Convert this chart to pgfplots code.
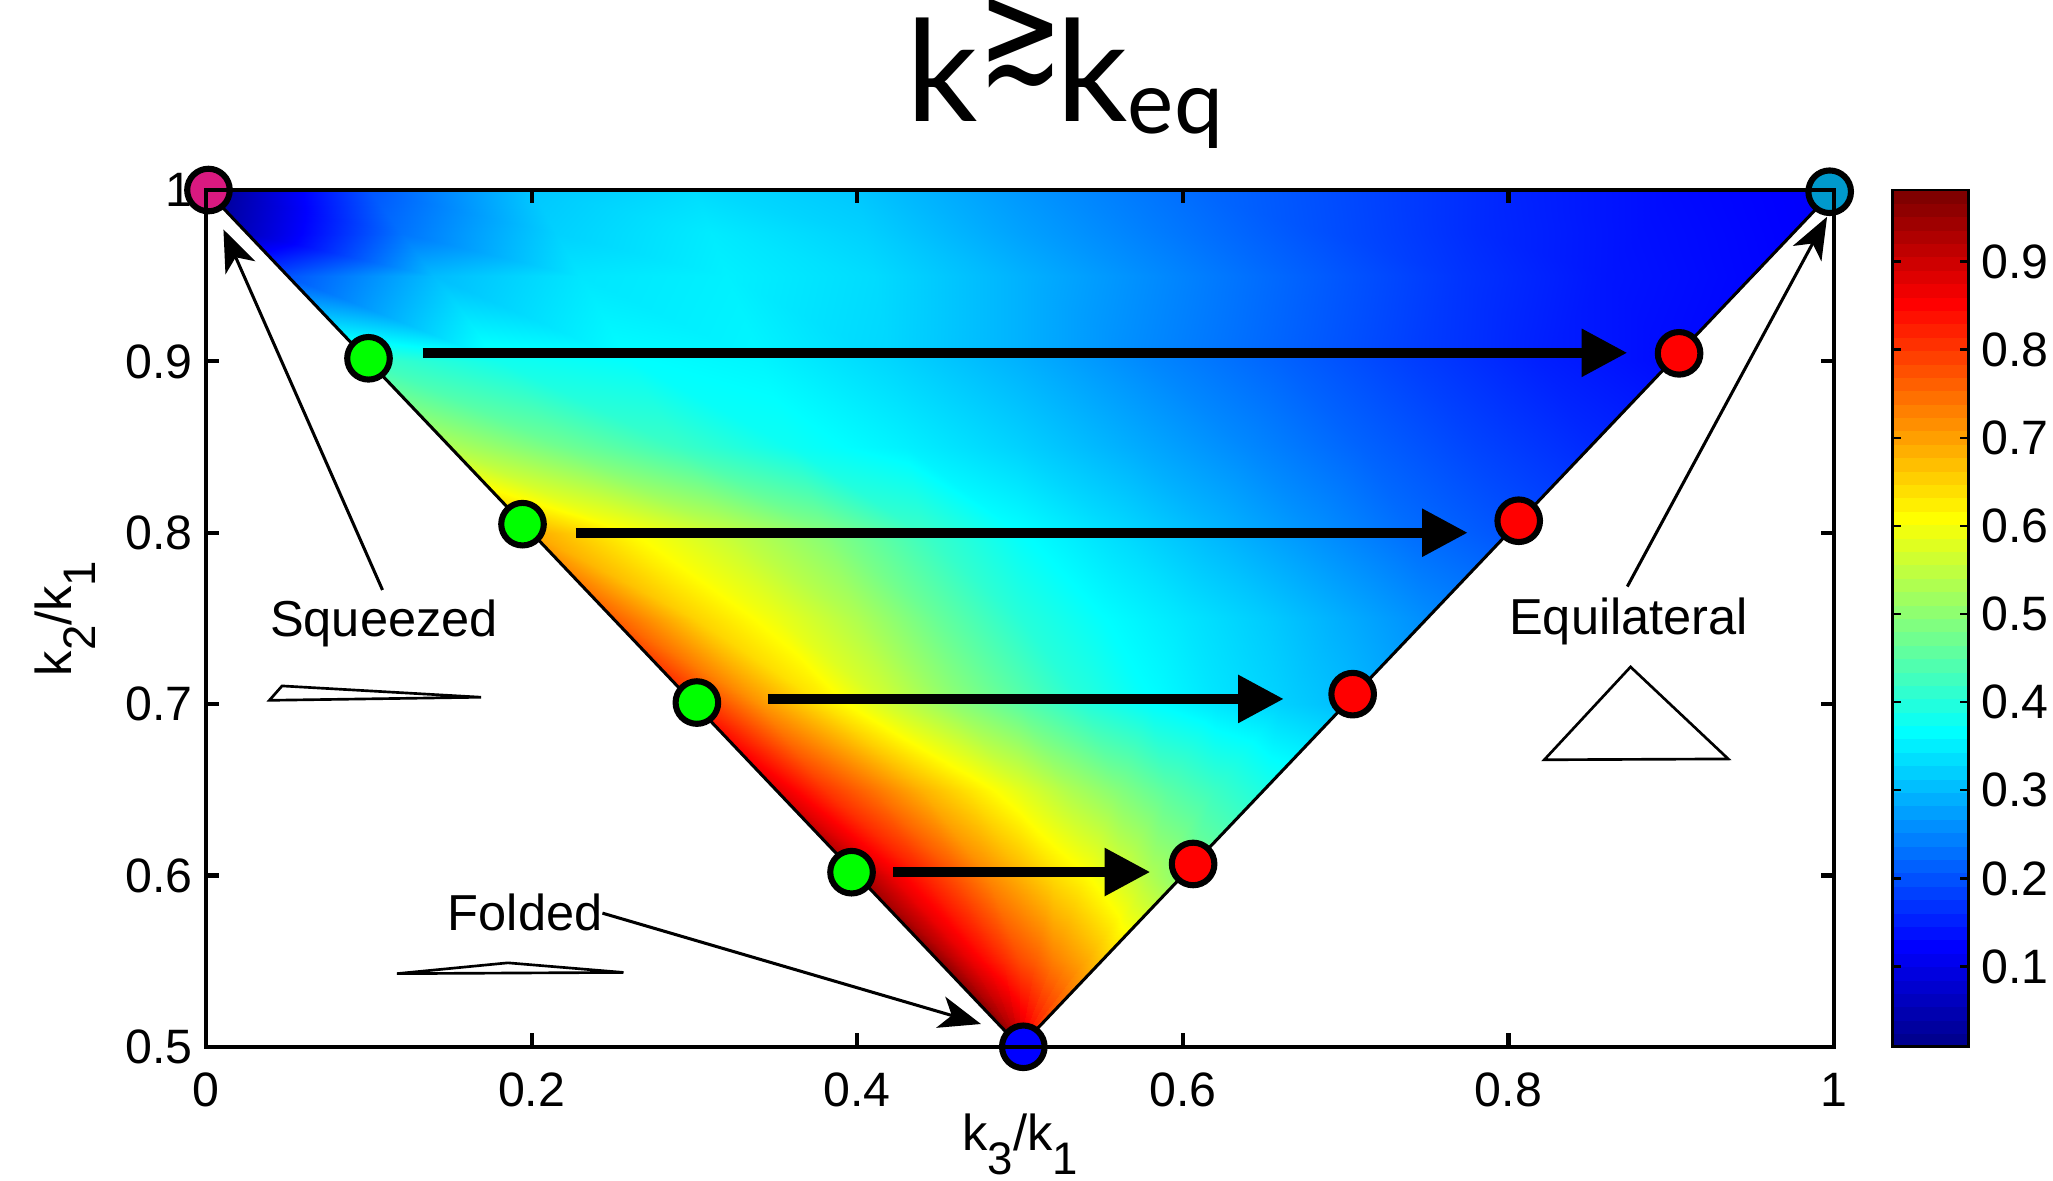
\documentclass[border=0pt]{standalone}
\usepackage{graphicx}
\usepackage{fontspec}
\setmainfont{Liberation Sans}
\newfontfamily\titlefont{Lato}
\newfontfamily\symfont{DejaVu Sans}
\usepackage{pgfplots}
\usepackage{pgfplotstable}
\pgfplotsset{compat=1.18}
\usetikzlibrary{arrows.meta}
\pgfplotsset{/pgf/number format/assume math mode=true}

\definecolor{sqzmag}{rgb}{0.85,0.10,0.50}
\definecolor{eqblue}{rgb}{0.00,0.60,0.80}

% 64-step jet for the colour scale, one band per colour
\pgfplotsset{colormap={jetsteps}{
 rgb(0cm)=(0,0,.5625) rgb(1cm)=(0,0,.625) rgb(2cm)=(0,0,.6875) rgb(3cm)=(0,0,.75)
 rgb(4cm)=(0,0,.8125) rgb(5cm)=(0,0,.875) rgb(6cm)=(0,0,.9375) rgb(7cm)=(0,0,1)
 rgb(8cm)=(0,.0625,1) rgb(9cm)=(0,.125,1) rgb(10cm)=(0,.1875,1) rgb(11cm)=(0,.25,1)
 rgb(12cm)=(0,.3125,1) rgb(13cm)=(0,.375,1) rgb(14cm)=(0,.4375,1) rgb(15cm)=(0,.5,1)
 rgb(16cm)=(0,.5625,1) rgb(17cm)=(0,.625,1) rgb(18cm)=(0,.6875,1) rgb(19cm)=(0,.75,1)
 rgb(20cm)=(0,.8125,1) rgb(21cm)=(0,.875,1) rgb(22cm)=(0,.9375,1) rgb(23cm)=(0,1,1)
 rgb(24cm)=(.0625,1,.9375) rgb(25cm)=(.125,1,.875) rgb(26cm)=(.1875,1,.8125) rgb(27cm)=(.25,1,.75)
 rgb(28cm)=(.3125,1,.6875) rgb(29cm)=(.375,1,.625) rgb(30cm)=(.4375,1,.5625) rgb(31cm)=(.5,1,.5)
 rgb(32cm)=(.5625,1,.4375) rgb(33cm)=(.625,1,.375) rgb(34cm)=(.6875,1,.3125) rgb(35cm)=(.75,1,.25)
 rgb(36cm)=(.8125,1,.1875) rgb(37cm)=(.875,1,.125) rgb(38cm)=(.9375,1,.0625) rgb(39cm)=(1,1,0)
 rgb(40cm)=(1,.9375,0) rgb(41cm)=(1,.875,0) rgb(42cm)=(1,.8125,0) rgb(43cm)=(1,.75,0)
 rgb(44cm)=(1,.6875,0) rgb(45cm)=(1,.625,0) rgb(46cm)=(1,.5625,0) rgb(47cm)=(1,.5,0)
 rgb(48cm)=(1,.4375,0) rgb(49cm)=(1,.375,0) rgb(50cm)=(1,.3125,0) rgb(51cm)=(1,.25,0)
 rgb(52cm)=(1,.1875,0) rgb(53cm)=(1,.125,0) rgb(54cm)=(1,.0625,0) rgb(55cm)=(1,0,0)
 rgb(56cm)=(.9375,0,0) rgb(57cm)=(.875,0,0) rgb(58cm)=(.8125,0,0) rgb(59cm)=(.75,0,0)
 rgb(60cm)=(.6875,0,0) rgb(61cm)=(.625,0,0) rgb(62cm)=(.5625,0,0) rgb(63cm)=(.5,0,0)
 rgb(64cm)=(.5,0,0)}}

% shape ratio over the triangle, one scan line per k2/k1 value (11 points each)
\pgfplotstableread{
x y c
0.50 0.50 0.981
0.50 0.50 0.975
0.50 0.50 0.965
0.50 0.50 0.955
0.50 0.50 0.945
0.50 0.50 0.930
0.50 0.50 0.915
0.50 0.50 0.900
0.50 0.50 0.885
0.50 0.50 0.870
0.50 0.50 0.850
0.45 0.55 0.97
0.46 0.55 0.92
0.47 0.55 0.88
0.48 0.55 0.85
0.49 0.55 0.82
0.50 0.55 0.79
0.51 0.55 0.77
0.52 0.55 0.74
0.53 0.55 0.72
0.54 0.55 0.70
0.55 0.55 0.67
0.40 0.60 0.95
0.42 0.60 0.88
0.44 0.60 0.83
0.46 0.60 0.78
0.48 0.60 0.73
0.50 0.60 0.69
0.52 0.60 0.65
0.54 0.60 0.62
0.56 0.60 0.58
0.58 0.60 0.54
0.60 0.60 0.50
0.35 0.65 0.89
0.38 0.65 0.81
0.41 0.65 0.75
0.44 0.65 0.69
0.47 0.65 0.64
0.50 0.65 0.59
0.53 0.65 0.54
0.56 0.65 0.50
0.59 0.65 0.46
0.62 0.65 0.43
0.65 0.65 0.40
0.30 0.70 0.83
0.34 0.70 0.72
0.38 0.70 0.64
0.42 0.70 0.57
0.46 0.70 0.51
0.50 0.70 0.46
0.54 0.70 0.41
0.58 0.70 0.375
0.62 0.70 0.35
0.66 0.70 0.33
0.70 0.70 0.31
0.25 0.75 0.77
0.30 0.75 0.66
0.35 0.75 0.60
0.40 0.75 0.54
0.45 0.75 0.47
0.50 0.75 0.41
0.55 0.75 0.375
0.60 0.75 0.35
0.65 0.75 0.325
0.70 0.75 0.295
0.75 0.75 0.265
0.20 0.80 0.70
0.26 0.80 0.62
0.32 0.80 0.56
0.38 0.80 0.50
0.44 0.80 0.43
0.50 0.80 0.375
0.56 0.80 0.34
0.62 0.80 0.305
0.68 0.80 0.27
0.74 0.80 0.235
0.80 0.80 0.21
0.15 0.85 0.54
0.22 0.85 0.48
0.29 0.85 0.43
0.36 0.85 0.385
0.43 0.85 0.36
0.50 0.85 0.33
0.57 0.85 0.295
0.64 0.85 0.26
0.71 0.85 0.225
0.78 0.85 0.195
0.85 0.85 0.17
0.10 0.90 0.43
0.18 0.90 0.39
0.26 0.90 0.375
0.34 0.90 0.365
0.42 0.90 0.335
0.50 0.90 0.30
0.58 0.90 0.26
0.66 0.90 0.225
0.74 0.90 0.19
0.82 0.90 0.16
0.90 0.90 0.14
0.05 0.95 0.21
0.14 0.95 0.31
0.23 0.95 0.35
0.32 0.95 0.36
0.41 0.95 0.34
0.50 0.95 0.30
0.59 0.95 0.26
0.68 0.95 0.22
0.77 0.95 0.18
0.86 0.95 0.15
0.95 0.95 0.135
0.025 0.975 0.07
0.12  0.975 0.24
0.215 0.975 0.33
0.31  0.975 0.355
0.405 0.975 0.33
0.50  0.975 0.285
0.595 0.975 0.245
0.69  0.975 0.205
0.785 0.975 0.17
0.88  0.975 0.145
0.975 0.975 0.13
0.0 1.0 0.015
0.1 1.0 0.21
0.2 1.0 0.32
0.3 1.0 0.34
0.4 1.0 0.32
0.5 1.0 0.275
0.6 1.0 0.235
0.7 1.0 0.20
0.8 1.0 0.165
0.9 1.0 0.14
1.0 1.0 0.125
}\fielddata

\newcommand{\sub}[1]{\raisebox{-6.2pt}{\fontsize{12}{12}\selectfont #1}}
\tikzset{bigarrow/.style={black, line width=2.6pt, -{Triangle[length=12pt,width=12pt]}},
         thinarrow/.style={black, line width=0.8pt, -{Stealth[length=11pt,width=8.5pt,inset=3pt]}},
         dot/.style={only marks, mark=*, mark size=5.6pt, mark options={draw=black, fill=#1, line width=1.6pt}, on layer=axis foreground}}

\begin{document}
\begin{tikzpicture}
\begin{axis}[
  name=main,
  scale only axis, width=428.3pt, height=225.4pt,
  xmin=0, xmax=1, ymin=0.5, ymax=1,
  xtick={0,0.2,0.4,0.6,0.8,1}, ytick={0.5,0.6,0.7,0.8,0.9,1},
  xtick pos=both, ytick pos=both, xticklabel pos=lower, yticklabel pos=left,
  tick align=inside, major tick length=3.5pt,
  every tick/.style={black, line width=1.1pt},
  axis line style={line width=1.2pt},
  tick label style={font=\fontsize{12.7}{14}\selectfont},
  xticklabel style={anchor=base, inner sep=0pt, yshift=-15.8pt},
  yticklabel style={inner sep=0pt}, yticklabel shift=3.4pt,
  colormap/jet,
  point meta min=0.009, point meta max=0.981,
  set layers, axis on top, clip=false,
]

% filled field
\addplot[surf, shader=interp, mesh/cols=11, point meta=explicit]
  table[x=x, y=y, meta=c] {\fielddata};

% triangle edges
\addplot[black, line width=0.8pt, line join=round] coordinates {(0,1) (0.5,0.5) (1,1)};

% horizontal transitions
\addplot[bigarrow] coordinates {(0.133,0.905) (0.873,0.905)};
\addplot[bigarrow] coordinates {(0.227,0.800) (0.775,0.800)};
\addplot[bigarrow] coordinates {(0.345,0.703) (0.662,0.703)};
\addplot[bigarrow] coordinates {(0.422,0.602) (0.580,0.602)};

% limit annotations
\addplot[thinarrow] coordinates {(0.1084,0.7666) (0.0107,0.977)};
\addplot[thinarrow] coordinates {(0.873,0.7686) (0.9957,0.9844)};
\addplot[thinarrow] coordinates {(0.2435,0.578) (0.476,0.5133)};

% triangle shape icons
\addplot[black, line width=0.7pt] coordinates {(0.0389,0.7022) (0.0467,0.7106) (0.169,0.704)} -- cycle;
\addplot[black, line width=0.7pt] coordinates {(0.1173,0.5427) (0.1854,0.549) (0.2564,0.5434)} -- cycle;
\addplot[black, line width=0.7pt] coordinates {(0.822,0.6675) (0.875,0.7217) (0.935,0.668)} -- cycle;

\node[anchor=base, inner sep=0, font=\fontsize{13.3}{15}\selectfont] at (axis cs:0.1093,0.7392) {Squeezed};
\node[anchor=base, inner sep=0, font=\fontsize{13.3}{15}\selectfont] at (axis cs:0.8738,0.7407) {Equilateral};
\node[anchor=base, inner sep=0, font=\fontsize{13.3}{15}\selectfont] at (axis cs:0.196,0.5677) {Folded};

% configuration markers
\addplot[dot=green] coordinates {(0.0998,0.9018) (0.1944,0.805) (0.3015,0.7009) (0.3965,0.6019)};
\addplot[dot=red] coordinates {(0.9048,0.9047) (0.8063,0.807) (0.7043,0.7058) (0.6063,0.6067)};
\addplot[dot=sqzmag] coordinates {(0.0015,1.0)};
\addplot[dot=eqblue] coordinates {(0.9973,0.999)};
\addplot[dot=blue] coordinates {(0.502,0.5)};

% title and axis labels
\node[anchor=base west, inner sep=0] at ([yshift=17.9pt]axis description cs:0.430,1)
  {\titlefont\fontsize{37}{40}\selectfont k\raisebox{10.5pt}{\scalebox{0.7}[1]{\symfont\fontsize{38}{38}\selectfont ≳}}\hspace{-1.7pt}k\raisebox{-3.1pt}{\fontsize{23}{23}\selectfont eq}};
\node[rotate=90, anchor=base, inner sep=0, font=\fontsize{13.3}{15}\selectfont] at ([xshift=-35.3pt]axis description cs:0,0.5) {k\sub{2}/k\sub{1}};
\node[anchor=base, inner sep=0, font=\fontsize{13.3}{15}\selectfont] at ([yshift=-27.4pt]axis description cs:0.5,0) {k\sub{3}/k\sub{1}};
\end{axis}

% colour scale
\begin{axis}[
  at={(main.north east)}, anchor=north west, xshift=15.3pt,
  scale only axis, width=20pt, height=225.4pt,
  xmin=0, xmax=1, ymin=0.009, ymax=0.981,
  xtick=\empty, ytick={0.1,0.2,0.3,0.4,0.5,0.6,0.7,0.8,0.9},
  ytick pos=both, yticklabel pos=right,
  tick align=inside, major tick length=2.3pt,
  every tick/.style={black, line width=0.6pt},
  axis line style={line width=0.7pt},
  tick label style={font=\fontsize{12.7}{14}\selectfont},
  yticklabel style={inner sep=0pt}, yticklabel shift=3.2pt,
  colormap name=jetsteps, colormap access=piecewise constant,
  point meta min=0.009, point meta max=0.981,
  axis on top,
]
\addplot[surf, shader=interp, point meta=y, mesh/cols=2]
  coordinates {(0,0.009) (1,0.009) (0,0.981) (1,0.981)};
\end{axis}

\pgfresetboundingbox
\useasboundingbox ([xshift=-54.2pt,yshift=-35.2pt]main.south west) rectangle ([xshift=57.6pt,yshift=50pt]main.north east);
\end{tikzpicture}
\end{document}
